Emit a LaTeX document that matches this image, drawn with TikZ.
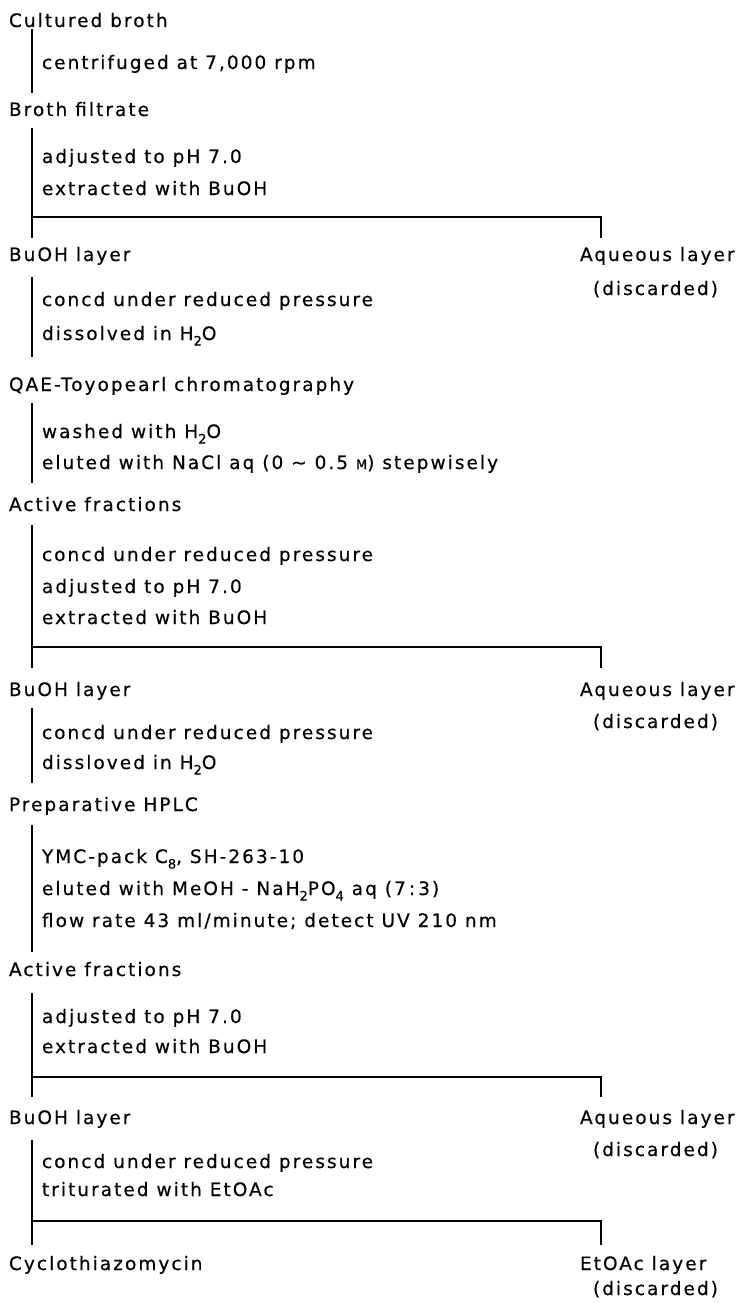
\documentclass[tikz,border=0pt]{standalone}
\usepackage{fontspec}
\setmainfont{DejaVu Sans}[LetterSpace=11,FakeBold=0.4]
\newcommand{\mysub}[1]{\raisebox{-0.3em}{\fontsize{13}{13}\selectfont #1}}
\newcommand{\mysmall}[1]{{\fontsize{13}{13}\selectfont #1}}
\begin{document}
\begin{tikzpicture}[x=1pt,y=-1pt,
  every node/.style={inner sep=0pt, outer sep=0pt, anchor=base west, font=\fontsize{18.5}{22}\selectfont},
  ln/.style={line width=1.4pt}]
\useasboundingbox[fill=white] (0,0) rectangle (738,1303);
% text nodes
\node (h1) at (9,27) {Cultured broth};
\node (s1) at (42,69) {centrifuged at 7,000 rpm};
\node (h2) at (9,116) {Broth filtrate};
\node (s2a) at (42,163) {adjusted to pH 7.0};
\node (s2b) at (42,195) {extracted with BuOH};
\node (h3) at (9,261) {BuOH layer};
\node (a1) at (580,261) {Aqueous layer};
\node (d1) at (593,295) {(discarded)};
\node (s3a) at (42,306) {concd under reduced pressure};
\node (s3b) at (42,340) {dissolved in H\mysub{2}O};
\node (h4) at (9,391) {QAE-Toyopearl chromatography};
\node (s4a) at (42,438) {washed with H\mysub{2}O};
\node (s4b) at (42,469) {eluted with NaCl aq (0 \textasciitilde\ 0.5 \mysmall{M}) stepwisely};
\node (h5) at (9,511) {Active fractions};
\node (s5a) at (42,561) {concd under reduced pressure};
\node (s5b) at (42,593) {adjusted to pH 7.0};
\node (s5c) at (42,624) {extracted with BuOH};
\node (h6) at (9,696) {BuOH layer};
\node (a2) at (580,696) {Aqueous layer};
\node (d2) at (593,728) {(discarded)};
\node (s6a) at (42,739) {concd under reduced pressure};
\node (s6b) at (42,769) {dissloved in H\mysub{2}O};
\node (h7) at (9,811) {Preparative HPLC};
\node (s7a) at (42,863) {YMC-pack C\mysub{8}, SH-263-10};
\node (s7b) at (42,895) {eluted with MeOH - NaH\mysub{2}PO\mysub{4} aq (7\,:\,3)};
\node (s7c) at (42,927) {flow rate 43 ml/minute; detect UV 210 nm};
\node (h8) at (9,976) {Active fractions};
\node (s8a) at (42,1023) {adjusted to pH 7.0};
\node (s8b) at (42,1053) {extracted with BuOH};
\node (h9) at (9,1124) {BuOH layer};
\node (a3) at (580,1124) {Aqueous layer};
\node (d3) at (593,1156) {(discarded)};
\node (s9a) at (42,1168) {concd under reduced pressure};
\node (s9b) at (42,1196) {triturated with EtOAc};
\node (h10) at (9,1270) {Cyclothiazomycin};
\node (e1) at (580,1270) {EtOAc layer};
\node (d4) at (593,1295) {(discarded)};
% coordinates
\coordinate (v1t) at (32,29);   \coordinate (v1b) at (32,93);
\coordinate (v2t) at (32,128);  \coordinate (v2b) at (32,238);
\coordinate (k1) at (32,217);   \coordinate (k1r) at (601,217); \coordinate (k1d) at (601,238);
\coordinate (v3t) at (32,277);  \coordinate (v3b) at (32,357);
\coordinate (v4t) at (32,403);  \coordinate (v4b) at (32,483);
\coordinate (v5t) at (32,525);  \coordinate (v5b) at (32,668);
\coordinate (k2) at (32,647);   \coordinate (k2r) at (601,647); \coordinate (k2d) at (601,668);
\coordinate (v6t) at (32,708);  \coordinate (v6b) at (32,783);
\coordinate (v7t) at (32,825);  \coordinate (v7b) at (32,952);
\coordinate (v8t) at (32,993);  \coordinate (v8b) at (32,1097);
\coordinate (k3) at (32,1077);  \coordinate (k3r) at (601,1077); \coordinate (k3d) at (601,1097);
\coordinate (v9t) at (32,1140); \coordinate (v9b) at (32,1245);
\coordinate (k4) at (32,1221);  \coordinate (k4r) at (601,1221); \coordinate (k4d) at (601,1245);
% lines
\draw[ln] (v1t) -- (v1b);
\draw[ln] (v2t) -- (v2b);
\draw[ln] (k1) -- (k1r) -- (k1d);
\draw[ln] (v3t) -- (v3b);
\draw[ln] (v4t) -- (v4b);
\draw[ln] (v5t) -- (v5b);
\draw[ln] (k2) -- (k2r) -- (k2d);
\draw[ln] (v6t) -- (v6b);
\draw[ln] (v7t) -- (v7b);
\draw[ln] (v8t) -- (v8b);
\draw[ln] (k3) -- (k3r) -- (k3d);
\draw[ln] (v9t) -- (v9b);
\draw[ln] (k4) -- (k4r) -- (k4d);
\end{tikzpicture}
\end{document}
